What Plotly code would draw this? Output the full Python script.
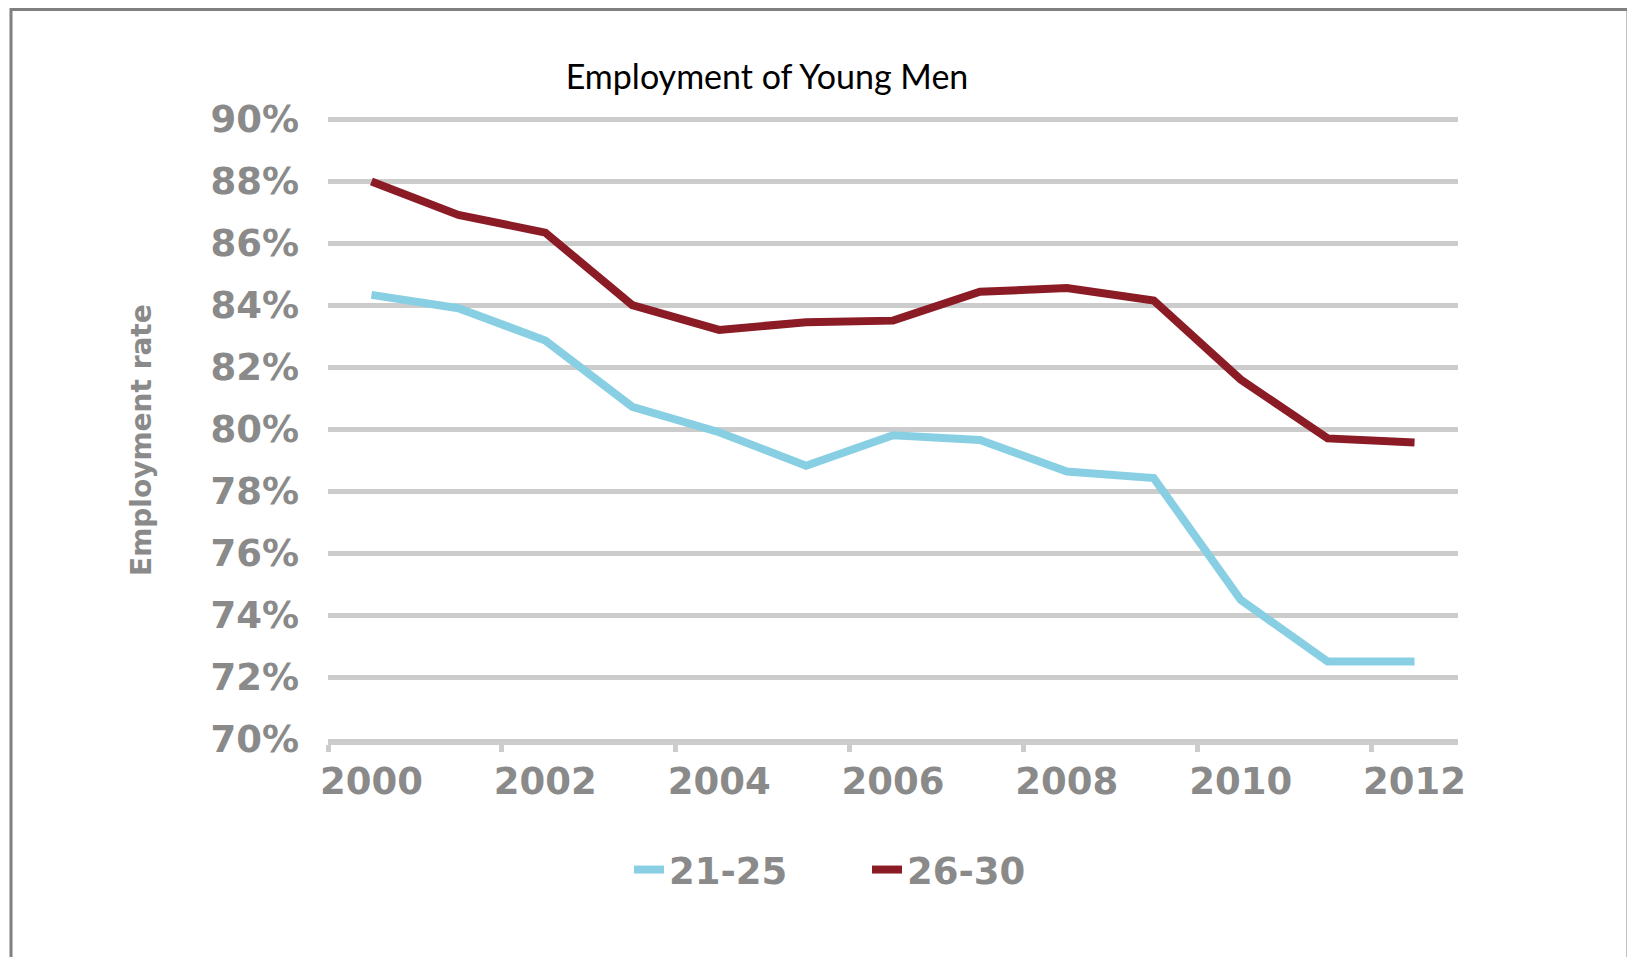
import plotly.graph_objects as go

years = [2000, 2001, 2002, 2003, 2004, 2005, 2006, 2007, 2008, 2009, 2010, 2011, 2012]
age_21_25 = [84.33, 83.9, 82.86, 80.72, 79.9, 78.82, 79.8, 79.65, 78.63, 78.42, 74.49, 72.5, 72.5]
age_26_30 = [87.99, 86.91, 86.34, 84.0, 83.2, 83.45, 83.5, 84.43, 84.55, 84.15, 81.6, 79.7, 79.57]
x_labels = [2000, 2002, 2004, 2006, 2008, 2010, 2012]
y_ticks = [70, 72, 74, 76, 78, 80, 82, 84, 86, 88, 90]
y_tick_text = ["70%", "72%", "74%", "76%", "78%", "80%", "82%", "84%", "86%", "88%", "90%"]
category_bounds = [1999.5, 2001.5, 2003.5, 2005.5, 2007.5, 2009.5, 2011.5]

OFF = 8  # page body margin
W, H = 1635 - OFF, 957 - OFF
ML, MR, MT, MB = 320, 177, 105, 218
PW, PH = W - ML - MR, H - MT - MB

def px(x):  # screen pixel -> paper
    return (x - OFF - ML) / PW

def py(y):
    return (H - MB - (y - OFF)) / PH

GRAY_TXT = "#8a8a8a"
GRID = "#cccccc"
tick_font = dict(family="DejaVu Sans", size=37, color=GRAY_TXT, weight="bold")

fig = go.Figure()
fig.add_trace(go.Scatter(x=years, y=age_21_25, mode="lines", name="21-25",
                         line=dict(color="#89cfe3", width=8)))
fig.add_trace(go.Scatter(x=years, y=age_26_30, mode="lines", name="26-30",
                         line=dict(color="#8b1c26", width=8)))

fig.update_layout(
    width=W, height=H,
    margin=dict(l=ML, r=MR, t=MT, b=MB, pad=0),
    paper_bgcolor="white", plot_bgcolor="white",
    title=dict(text="Employment of Young Men", x=(767 - OFF) / W, xanchor="center",
               y=1 - (77 - OFF) / H, yanchor="middle",
               font=dict(family="Lato", size=34, color="black")),
    xaxis=dict(range=[1999.5, 2012.5], tickmode="array", tickvals=x_labels,
               ticktext=[str(v) for v in x_labels], ticks="", showgrid=False,
               showline=True, linecolor=GRID, linewidth=6, zeroline=False,
               tickfont=tick_font, ticklabelstandoff=5,
               minor=dict(tickmode="array", tickvals=category_bounds, ticks="outside",
                          ticklen=7, tickwidth=5, tickcolor=GRID, showgrid=False)),
    yaxis=dict(range=[70, 90.2], tickmode="array", tickvals=y_ticks, ticktext=y_tick_text,
               ticks="", showgrid=True, gridcolor=GRID, gridwidth=5, zeroline=False,
               showline=False, tickfont=tick_font, ticklabelstandoff=28),
    legend=dict(orientation="h", x=px(629), xanchor="left", y=py(870), yanchor="middle",
                font=tick_font, entrywidthmode="pixels", entrywidth=193,
                bgcolor="rgba(0,0,0,0)"),
    annotations=[dict(text="Employment rate", textangle=-90, showarrow=False,
                      xref="paper", yref="paper", x=px(141), y=py(440),
                      xanchor="center", yanchor="middle",
                      font=dict(family="DejaVu Sans", size=28, color=GRAY_TXT, weight="bold"))],
    shapes=[dict(type="rect", xref="paper", yref="paper", x0=px(11), x1=px(1628),
                 y0=py(OFF + 1.6), y1=py(1000), line=dict(color="#808080", width=3),
                 fillcolor="rgba(0,0,0,0)", layer="below")],
)

fig.write_html("out.html")
